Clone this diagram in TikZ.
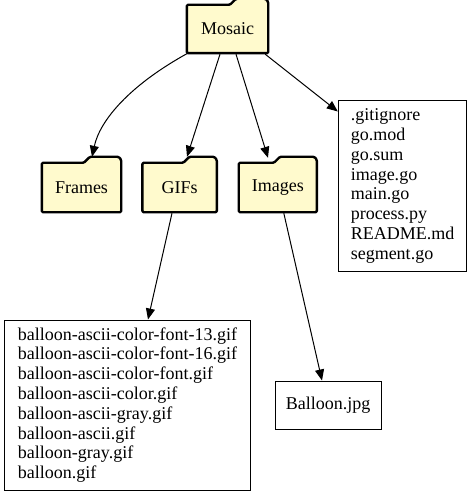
\documentclass[tikz,border=0pt]{standalone}
\usepackage{fontspec}
\setmainfont{Liberation Serif}
\usetikzlibrary{arrows.meta,calc,backgrounds}
\definecolor{folderfill}{HTML}{FFFACD}
\tikzset{
  gvfont/.style={font=\fontsize{18bp}{19.8bp}\selectfont},
  foldernode/.style={gvfont,draw=none,inner sep=0pt,minimum height=#1},
  folderline/.style={draw=black,fill=folderfill,line width=2.4bp,rounded corners=1.2bp,line join=round},
  filebox/.style={gvfont,draw=black,line width=1bp,inner sep=0pt,align=left},
  edge/.style={draw=black,line width=1bp,-{Triangle[length=11bp,width=9bp]}},
}
\newcommand\folderoutline[2]{%
  \draw[folderline] let \p1=(#1.south west), \p2=(#1.north east) in
    (\x1,\y1) -- (\x1,\y2) -- ({\x1+#2*(\x2-\x1)},\y2) -- ({\x1+#2*(\x2-\x1)+6bp},\y2+6bp)
    -- (\x2-2.5bp,\y2+6bp) -- (\x2,\y2+3bp) -- (\x2,\y1) -- cycle;}
\begin{document}
\begin{tikzpicture}[x=1bp,y=-1bp]
\useasboundingbox (0,0) rectangle (472,496);
\node[foldernode=48bp,minimum width=81bp] (mosaic) at (227.5,29) {Mosaic};
\node[foldernode=49bp,minimum width=79bp] (frames) at (81.5,187.5) {Frames};
\node[foldernode=49bp,minimum width=74bp] (gifs) at (179.6,187.5) {GIFs};
\node[foldernode=49bp,minimum width=77.7bp] (images) at (277.8,187.5) {Images};
\begin{scope}[on background layer]
\folderoutline{mosaic}{0.53}
\folderoutline{frames}{0.53}
\folderoutline{gifs}{0.55}
\folderoutline{images}{0.45}
\end{scope}
\node[filebox,minimum width=128.4bp,minimum height=170bp] (files) at (402.5,186)
  {.gitignore\\go.mod\\go.sum\\image.go\\main.go\\process.py\\README.md\\segment.go};
\node[filebox,minimum width=245bp,minimum height=170bp] (balloons) at (127.5,405)
  {balloon-ascii-color-font-13.gif\\balloon-ascii-color-font-16.gif\\balloon-ascii-color-font.gif\\balloon-ascii-color.gif\\balloon-ascii-gray.gif\\balloon-ascii.gif\\balloon-gray.gif\\balloon.gif};
\node[filebox,minimum width=106bp,minimum height=48bp] (jpg) at (328,405) {Balloon.jpg};
\coordinate (ftip) at ($(frames.north)+(10.5,-6)$);
\coordinate (gtip) at ($(gifs.north)+(7.4,-6)$);
\coordinate (itip) at ($(images.north)+(-9.8,-5)$);
\draw[edge] ($(mosaic.south west)+(1,0)$) .. controls (130,85) and (100,120) .. (ftip);
\draw[edge] ($(mosaic.south)+(-7.5,1)$) -- (gtip);
\draw[edge] ($(mosaic.south)+(8.5,1)$) -- (itip);
\draw[edge] ($(mosaic.south east)+(-3,1)$) -- ($(files.north west)+(0,11)$);
\draw[edge] ($(gifs.south)+(-7.6,1)$) -- ($(balloons.north)+(20.5,0)$);
\draw[edge] ($(images.south)+(6,1)$) -- ($(jpg.north)+(-6,0)$);
\end{tikzpicture}
\end{document}
